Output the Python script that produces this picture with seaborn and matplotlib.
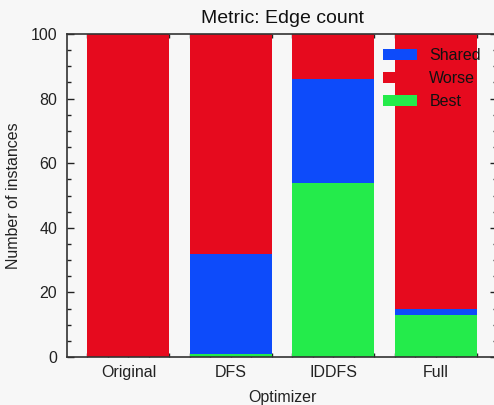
import matplotlib
matplotlib.use("Agg")
import matplotlib.pyplot as plt
import seaborn as sns
import pandas as pd
from matplotlib.ticker import MultipleLocator, FixedLocator
from matplotlib.patches import Patch

optimizers = ["Original", "DFS", "IDDFS", "Full"]
best = [0, 1, 54, 13]
shared = [0, 31, 32, 2]
worse = [100, 68, 14, 85]

c_best = "#24eb4b"
c_shared = "#0d4bfa"
c_worse = "#e60a1e"
bg = "#f7f7f7"

sns.set_style("ticks")
plt.rcParams["font.family"] = ["Liberation Sans", "DejaVu Sans"]

df = pd.DataFrame({
    "Optimizer": optimizers,
    "Best": best,
    "Shared": shared,
    "Worse": worse,
})
df["top_shared"] = df["Best"] + df["Shared"]
df["top_worse"] = df["top_shared"] + df["Worse"]

fig = plt.figure(figsize=(4.94, 4.05), dpi=100, facecolor=bg)
ax = fig.add_axes([67 / 494, 48 / 405, 430 / 494, 323 / 405])
ax.set_facecolor(bg)

sns.barplot(data=df, x="Optimizer", y="top_worse", order=optimizers, color=c_worse,
            width=0.8, saturation=1, ax=ax)
sns.barplot(data=df, x="Optimizer", y="top_shared", order=optimizers, color=c_shared,
            width=0.8, saturation=1, ax=ax)
sns.barplot(data=df, x="Optimizer", y="Best", order=optimizers, color=c_best,
            width=0.8, saturation=1, ax=ax)
for p in ax.patches:
    p.set_edgecolor("none")
    p.set_linewidth(0)

ax.set_xlim(-0.6, 3.6)
ax.set_ylim(0, 100)

ax.set_xticks(range(len(optimizers)))
ax.set_xticklabels(optimizers)
minor_x = [i + d for i in range(len(optimizers)) for d in (-0.4, -0.2, 0.2, 0.4)]
ax.xaxis.set_minor_locator(FixedLocator(minor_x))
ax.yaxis.set_major_locator(MultipleLocator(20))
ax.yaxis.set_minor_locator(MultipleLocator(5))

ax.tick_params(which="both", direction="in", top=True, right=True, colors="#222222",
               labelcolor="#222222", labelsize=11.5)
ax.tick_params(which="major", length=5, width=1)
ax.tick_params(which="minor", length=3, width=1)
ax.tick_params(axis="y", pad=7)
ax.tick_params(axis="x", pad=6)

for s in ax.spines.values():
    s.set_color("#333333")
    s.set_linewidth(1.2)
    s.set_visible(True)

ax.set_xlabel("Optimizer", fontsize=11.5, color="#222222", labelpad=7)
ax.set_ylabel("Number of instances", fontsize=11.5, color="#222222", labelpad=7)
ax.set_title("Metric: Edge count", fontsize=14, color="#111111", pad=8)

handles = [Patch(facecolor=c_shared, edgecolor="none", label="Shared"),
           Patch(facecolor=c_worse, edgecolor="none", label="Worse"),
           Patch(facecolor=c_best, edgecolor="none", label="Best")]
ax.legend(handles=handles, loc="upper left",
          bbox_to_anchor=((383 - 67) / 430, 1 - (48 - 34) / 323),
          frameon=False, fontsize=11.5, handlelength=2.1, handleheight=0.7,
          labelspacing=0.5, handletextpad=0.8, borderaxespad=0, borderpad=0,
          labelcolor="#111111")

fig.savefig("out.png", dpi=100, facecolor=bg)
